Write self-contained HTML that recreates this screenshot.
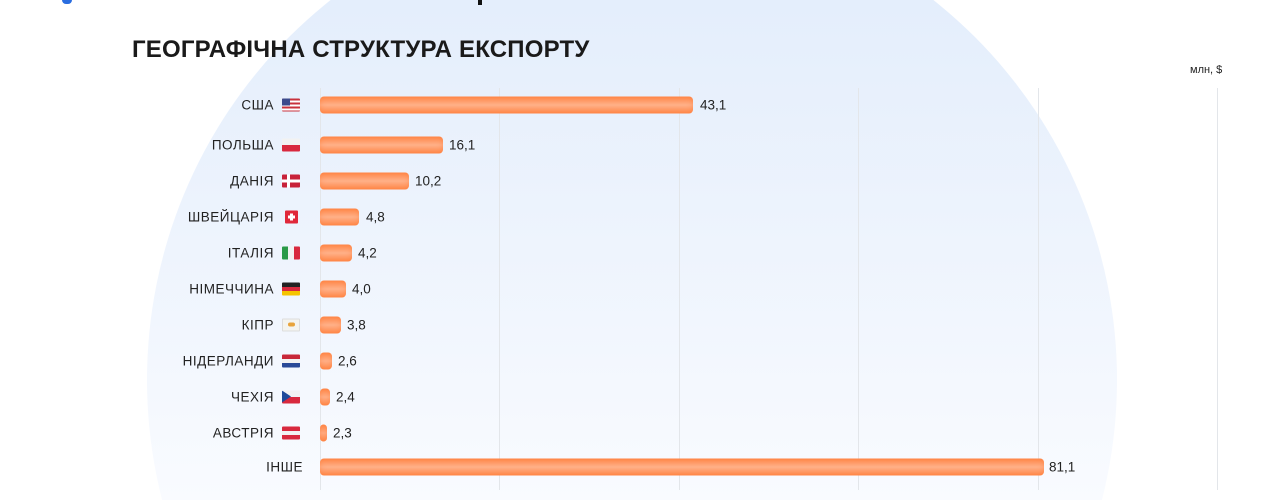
<!DOCTYPE html>
<html style="width:1280px;height:500px;overflow:hidden"><head><meta charset="utf-8"><style>
html,body{margin:0;width:1280px;height:500px;overflow:hidden}
body{background:#fff;font-family:"Liberation Sans","DejaVu Sans",sans-serif;position:relative}
.bg{position:absolute;left:0;top:0}
.title{position:absolute;left:132px;top:36px;font-size:24px;font-weight:bold;color:#1a1a1a;letter-spacing:0.2px}
.unit{position:absolute;left:1190px;top:64px;font-size:11px;color:#222}
.grid{position:absolute;top:88px;height:402px;width:1px;background:#e3e6ea}
.lab{position:absolute;right:1006px;font-size:13.5px;color:#222;transform:translateY(-50%);letter-spacing:0.5px;white-space:nowrap}
.flag{position:absolute;left:282px;width:18px;height:13px;transform:translateY(-50%);border-radius:1px;overflow:hidden}
.bar{position:absolute;left:320px;height:17px;transform:translateY(-50%);border-radius:4px;background:linear-gradient(180deg,#ff8a4c 0%,#ffb088 50%,#ff8a4c 100%);box-shadow:inset 0 0 6px rgba(255,120,50,.5)}
.val{position:absolute;font-size:13.5px;color:#222;transform:translateY(-50%)}
.dot{position:absolute;left:62px;top:0;width:10px;height:4px;background:#2a6de0;border-radius:0 0 5px 5px}
.dk{position:absolute;left:478px;top:0;width:4px;height:5px;background:#111}
</style></head><body>
<svg class="bg" width="1280" height="500" viewBox="0 0 1280 500"><defs><linearGradient id="g" x1="0" y1="0" x2="0" y2="1" gradientUnits="userSpaceOnUse" gradientTransform="scale(1,500)"><stop offset="0" stop-color="#e4eefc"/><stop offset="0.5" stop-color="#eef4fd"/><stop offset="1" stop-color="#f9fbff"/></linearGradient></defs><circle cx="632" cy="380" r="485" fill="url(#g)"/></svg>
<div class="dot"></div><div class="dk"></div>
<div class="title">ГЕОГРАФІЧНА СТРУКТУРА ЕКСПОРТУ</div>
<div class="unit">млн, $</div>
<div class="grid" style="left:320px"></div>
<div class="grid" style="left:499px"></div>
<div class="grid" style="left:679px"></div>
<div class="grid" style="left:858px"></div>
<div class="grid" style="left:1038px"></div>
<div class="grid" style="left:1217px"></div>

<div class="lab" style="top:105px">США</div>
<div class="flag" style="top:105px;background:repeating-linear-gradient(180deg,#c8323c 0 2px,#fff 2px 4px)"><div style="width:8px;height:7px;background:#3c4a8c"></div></div>
<div class="bar" style="top:105px;width:373px"></div><div class="val" style="top:105px;left:700px">43,1</div>

<div class="lab" style="top:145px">ПОЛЬША</div>
<div class="flag" style="top:145px;background:linear-gradient(180deg,#f2f2f2 50%,#d8293e 50%)"></div>
<div class="bar" style="top:145px;width:123px"></div><div class="val" style="top:145px;left:449px">16,1</div>

<div class="lab" style="top:181px">ДАНІЯ</div>
<div class="flag" style="top:181px;background:#c8223a"><div style="position:absolute;left:5px;top:0;width:3px;height:13px;background:#fff"></div><div style="position:absolute;left:0;top:5px;width:18px;height:3px;background:#fff"></div></div>
<div class="bar" style="top:181px;width:89px"></div><div class="val" style="top:181px;left:415px">10,2</div>

<div class="lab" style="top:217px">ШВЕЙЦАРІЯ</div>
<div class="flag" style="top:217px;left:285px;width:13px;background:#e0283a"><div style="position:absolute;left:5px;top:3px;width:3px;height:7px;background:#fff"></div><div style="position:absolute;left:3px;top:5px;width:7px;height:3px;background:#fff"></div></div>
<div class="bar" style="top:217px;width:39px"></div><div class="val" style="top:217px;left:366px">4,8</div>

<div class="lab" style="top:253px">ІТАЛІЯ</div>
<div class="flag" style="top:253px;background:linear-gradient(90deg,#2a9a48 33%,#f2f2f2 33% 66%,#d8293e 66%)"></div>
<div class="bar" style="top:253px;width:32px"></div><div class="val" style="top:253px;left:358px">4,2</div>

<div class="lab" style="top:289px">НІМЕЧЧИНА</div>
<div class="flag" style="top:289px;background:linear-gradient(180deg,#222 33%,#d8293e 33% 66%,#f5c400 66%)"></div>
<div class="bar" style="top:289px;width:26px"></div><div class="val" style="top:289px;left:352px">4,0</div>

<div class="lab" style="top:325px">КІПР</div>
<div class="flag" style="top:325px;background:#f4f4f0;border:1px solid #ddd;box-sizing:border-box"><div style="position:absolute;left:5px;top:3px;width:7px;height:4px;background:#e8a33a;border-radius:2px"></div></div>
<div class="bar" style="top:325px;width:21px"></div><div class="val" style="top:325px;left:347px">3,8</div>

<div class="lab" style="top:361px">НІДЕРЛАНДИ</div>
<div class="flag" style="top:361px;background:linear-gradient(180deg,#c8283a 33%,#f2f2f2 33% 66%,#2a4a98 66%)"></div>
<div class="bar" style="top:361px;width:12px"></div><div class="val" style="top:361px;left:338px">2,6</div>

<div class="lab" style="top:397px">ЧЕХІЯ</div>
<div class="flag" style="top:397px;background:linear-gradient(180deg,#f2f2f2 50%,#d8293e 50%)"><div style="position:absolute;left:0;top:0;width:0;height:0;border-top:6.5px solid transparent;border-bottom:6.5px solid transparent;border-left:9px solid #1f4a9a"></div></div>
<div class="bar" style="top:397px;width:10px"></div><div class="val" style="top:397px;left:336px">2,4</div>

<div class="lab" style="top:433px">АВСТРІЯ</div>
<div class="flag" style="top:433px;background:linear-gradient(180deg,#d8293e 33%,#f2f2f2 33% 66%,#d8293e 66%)"></div>
<div class="bar" style="top:433px;width:7px"></div><div class="val" style="top:433px;left:333px">2,3</div>

<div class="lab" style="top:467px;right:977px">ІНШЕ</div>
<div class="bar" style="top:467px;width:724px"></div><div class="val" style="top:467px;left:1049px">81,1</div>
</body></html>
